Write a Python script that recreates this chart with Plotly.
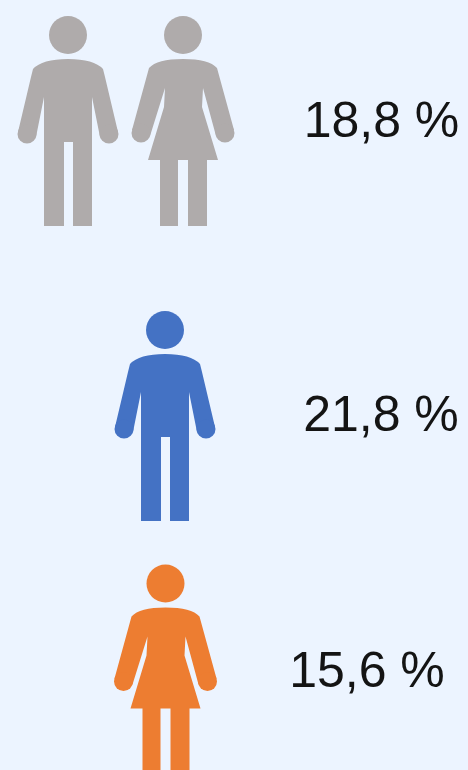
import plotly.graph_objects as go

# Data
groups = ["Total", "Men", "Women"]
values = [18.8, 21.8, 15.6]

# Styling and layout
W, H = 468, 770
BG = "#ecf4ff"
GREY, BLUE, ORANGE = "#afabab", "#4472c4", "#ed7d31"
TEXT = "#141414"
label_x = [381.5, 381, 367]
label_y = [124, 418, 674]


def pts(offsets, cx, cy):
    return [(cx + dx, cy + dy) for dx, dy in offsets]


def circle(cx, cy, r, color):
    return dict(type="circle", xref="x", yref="y", x0=cx - r, x1=cx + r,
                y0=cy - r, y1=cy + r, fillcolor=color, line_width=0, layer="above")


def path(d, color):
    return dict(type="path", xref="x", yref="y", path=d, fillcolor=color,
                line_width=0, layer="above")


def shoulders(cx, cy, half, y_sh):
    return (f"M{cx - half},{cy + y_sh} Q{cx - 26},{cy + 24} {cx},{cy + 24} "
            f"Q{cx + 26},{cy + 24} {cx + half},{cy + y_sh} ")


def man(cx, cy, color):
    s = [circle(cx, cy, 19, color)]
    body = shoulders(cx, cy, 35, 34)
    outline = [(37, 42), (50, 97), (32, 102), (24, 62), (24, 191), (5, 191), (5, 107),
               (-4, 107), (-4, 191), (-24, 191), (-24, 62), (-32, 102), (-50, 97), (-37, 42)]
    body += " ".join("L%.1f,%.1f" % p for p in pts(outline, cx, cy)) + " Z"
    s.append(path(body, color))
    s.append(circle(cx - 41, cy + 99, 9.5, color))
    s.append(circle(cx + 41, cy + 99, 9.5, color))
    return s


def woman(cx, cy, color):
    s = [circle(cx, cy, 19, color)]
    body = shoulders(cx, cy, 34, 33)
    outline = [(51, 95), (33, 101), (20, 53), (19, 72), (35, 125), (24, 125),
               (24, 191), (5, 191), (5, 125), (-5, 125), (-5, 191), (-23, 191),
               (-23, 125), (-35, 125), (-19, 72), (-18, 53), (-33, 101), (-51, 95)]
    body += " ".join("L%.1f,%.1f" % p for p in pts(outline, cx, cy)) + " Z"
    s.append(path(body, color))
    s.append(circle(cx - 42, cy + 98, 9.5, color))
    s.append(circle(cx + 42, cy + 98, 9.5, color))
    return s


shapes = man(68, 35, GREY) + woman(183, 35, GREY) + man(165, 330, BLUE) + woman(165.5, 583.5, ORANGE)

fig = go.Figure(go.Scatter(
    x=label_x, y=label_y, mode="text",
    text=[f"{v:.1f}".replace(".", ",") + " %" for v in values],
    customdata=groups, hoverinfo="skip",
    textposition="middle center",
    textfont=dict(family="Liberation Sans, Arial, sans-serif", size=50, color=TEXT),
))
fig.update_layout(
    width=W, height=H, margin=dict(l=0, r=0, t=0, b=0),
    paper_bgcolor=BG, plot_bgcolor=BG, showlegend=False, shapes=shapes,
    xaxis=dict(range=[0, W], visible=False, fixedrange=True),
    yaxis=dict(range=[H, 0], visible=False, fixedrange=True),
)
fig.write_html("out.html", config={"displayModeBar": False, "responsive": False},
               post_script="document.body.style.margin='0';document.body.style.background='%s';" % BG)
